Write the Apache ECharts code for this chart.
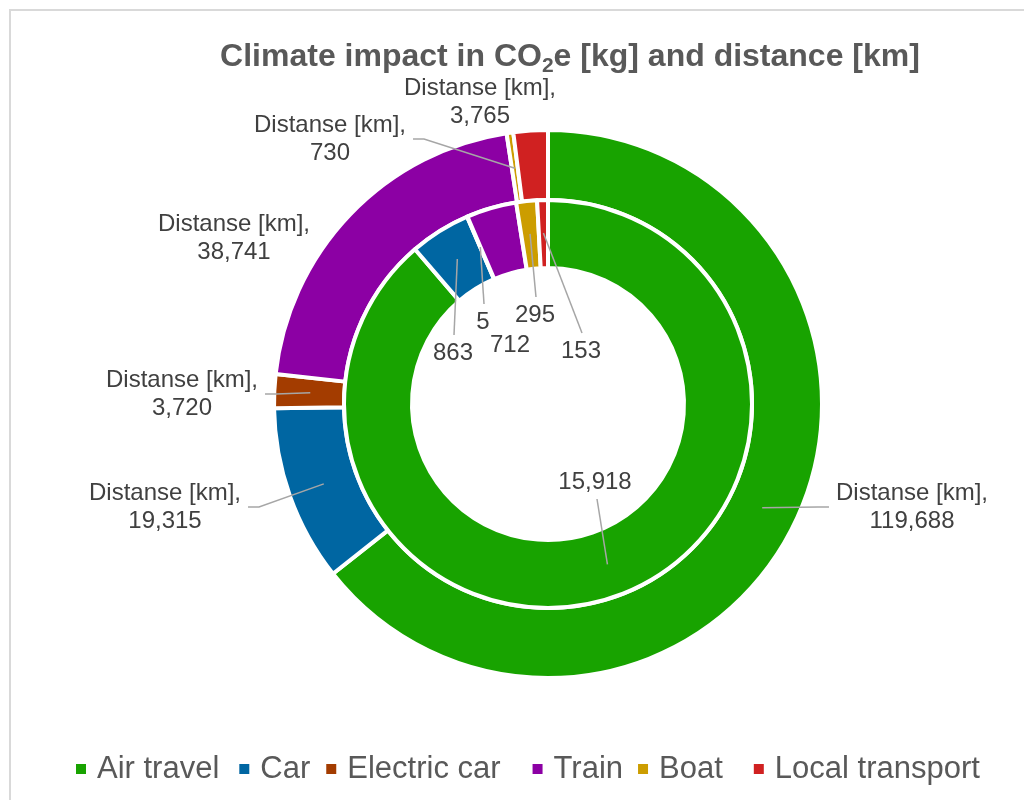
<!DOCTYPE html>
<html>
<head>
<meta charset="utf-8">
<script src="https://cdn.jsdelivr.net/npm/echarts@6/dist/echarts.min.js"></script>
<style>html,body{margin:0;padding:0;background:#fff}#c{width:1024px;height:800px}</style>
</head>
<body>
<div id="c"></div>
<script>
// ---- data ----
const categories = ['Air travel', 'Car', 'Electric car', 'Train', 'Boat', 'Local transport'];
const distanceKm = [119688, 19315, 3720, 38741, 730, 3765];
const co2eKg = [15918, 863, 5, 712, 295, 153];
const distanceLabel = 'Distanse [km]';
const titleParts = ['Climate impact in CO', '2', 'e [kg] and distance [km]'];

// ---- style / layout ----
const colors = ['#18a300', '#0066a2', '#a33c00', '#8c00a4', '#cc9d00', '#d02121'];
const FONT = '"Liberation Sans", Arial, sans-serif';
const CX = 548, CY = 404;
const R_HOLE = 136, R_MID = 204, R_OUT = 274;
// label placement: [centerX, centerY, side the leader line leaves from]
const outerLabelPos = [[912, 507, 'left'], [165, 507, 'right'], [182, 394, 'right'], [234, 238, null], [330, 139, 'right'], [480, 102, null]];
const innerLabelPos = [[595, 482, 'bottom'], [453, 353, 'top'], [483, 322, 'top'], [510, 345, null], [535, 315, 'top'], [581, 351, 'top']];
// extra spacing after each legend entry (px)
const legendExtraGap = [5, 1, 17, 0, 16, 0];

const fmt = v => v.toLocaleString('en-US');

function makeLayout(values, pos, rMid) {
  const total = values.reduce((a, b) => a + b, 0);
  return function (params) {
    const i = params.dataIndex;
    const p = pos[i];
    let before = 0;
    for (let k = 0; k < i; k++) before += values[k];
    const ang = (before + values[i] / 2) / total * 2 * Math.PI;
    const ax = CX + rMid * Math.sin(ang), ay = CY - rMid * Math.cos(ang);
    const w = params.labelRect.width, h = params.labelRect.height;
    const res = { x: p[0], y: p[1], align: 'center', verticalAlign: 'middle' };
    if (p[2] === 'left') {
      const sx = p[0] - w / 2 - 7;
      res.labelLinePoints = [[sx, p[1]], [sx - 11, p[1]], [ax, ay]];
    } else if (p[2] === 'right') {
      const sx = p[0] + w / 2 + 7;
      res.labelLinePoints = [[sx, p[1]], [sx + 11, p[1]], [ax, ay]];
    } else if (p[2] === 'top') {
      const sy = p[1] - h / 2 - 4;
      res.labelLinePoints = [[p[0] + 1, sy], [p[0] + 1, sy], [ax, ay]];
    } else if (p[2] === 'bottom') {
      const sy = p[1] + h / 2 + 3;
      res.labelLinePoints = [[p[0] + 2, sy], [p[0] + 2, sy], [ax, ay]];
    }
    return res;
  };
}

function buildData(values, pos, overlay) {
  return values.map((v, i) => ({
    name: categories[i],
    value: v,
    itemStyle: { color: overlay ? 'rgba(0,0,0,0)' : colors[i] },
    labelLine: { show: overlay && pos[i][2] != null }
  }));
}

const labelStyle = { fontSize: 24, color: '#404040', fontFamily: FONT, lineHeight: 28 };
const lineStyle = { color: '#a6a6a6', width: 1.5 };

function ring(name, values, radius, pos, rMid, formatter) {
  return [
    {
      name: name, type: 'pie', z: 2,
      center: [CX, CY], radius: radius,
      startAngle: 90, clockwise: true, avoidLabelOverlap: false,
      itemStyle: { borderColor: '#ffffff', borderWidth: 4 },
      label: { show: false }, labelLine: { show: false },
      emphasis: { disabled: true },
      data: buildData(values, pos, false)
    },
    {
      name: name + ' labels', type: 'pie', z: 5, silent: true,
      center: [CX, CY], radius: radius,
      startAngle: 90, clockwise: true, avoidLabelOverlap: false,
      itemStyle: { borderWidth: 0 },
      label: Object.assign({ show: true, position: 'outside', formatter: formatter }, labelStyle),
      labelLine: { show: true, showAbove: true, lineStyle: lineStyle },
      labelLayout: makeLayout(values, pos, rMid),
      emphasis: { disabled: true },
      data: buildData(values, pos, true)
    }
  ];
}

const chart = echarts.init(document.getElementById('c'), null, { renderer: 'canvas' });
chart.setOption({
  animation: false,
  backgroundColor: '#ffffff',
  graphic: [{
    type: 'rect', silent: true,
    shape: { x: 10, y: 10, width: 1100, height: 900 },
    style: { fill: 'none', stroke: '#d9d9d9', lineWidth: 2 }
  }],
  title: {
    text: '{a|' + titleParts[0] + '}{s|' + titleParts[1] + '}{a|' + titleParts[2] + '}',
    left: 570, top: 37, textAlign: 'center', padding: 0,
    textStyle: {
      rich: {
        a: { fontSize: 32, fontWeight: 'bold', color: '#595959', fontFamily: FONT, lineHeight: 40 },
        s: { fontSize: 21, fontWeight: 'bold', color: '#595959', fontFamily: FONT, lineHeight: 26, verticalAlign: 'bottom' }
      }
    }
  },
  legend: {
    data: categories.map((c, i) => ({ name: c, itemStyle: { color: colors[i] }, textStyle: { padding: [0, legendExtraGap[i], 0, 5] } })),
    left: 69, top: 746,
    icon: 'rect', itemWidth: 12, itemHeight: 12, itemGap: 13,
    textStyle: { fontSize: 31, color: '#595959', fontFamily: FONT, lineHeight: 36 }
  },
  series: [].concat(
    ring('Distance [km]', distanceKm, [R_MID, R_OUT], outerLabelPos, (R_MID + R_OUT) / 2 - 1,
      p => distanceLabel + ',\n' + fmt(p.value)),
    ring('Climate impact CO2e [kg]', co2eKg, [R_HOLE, R_MID], innerLabelPos, (R_HOLE + R_MID) / 2 + 1,
      p => fmt(p.value))
  )
});
</script>
</body>
</html>
